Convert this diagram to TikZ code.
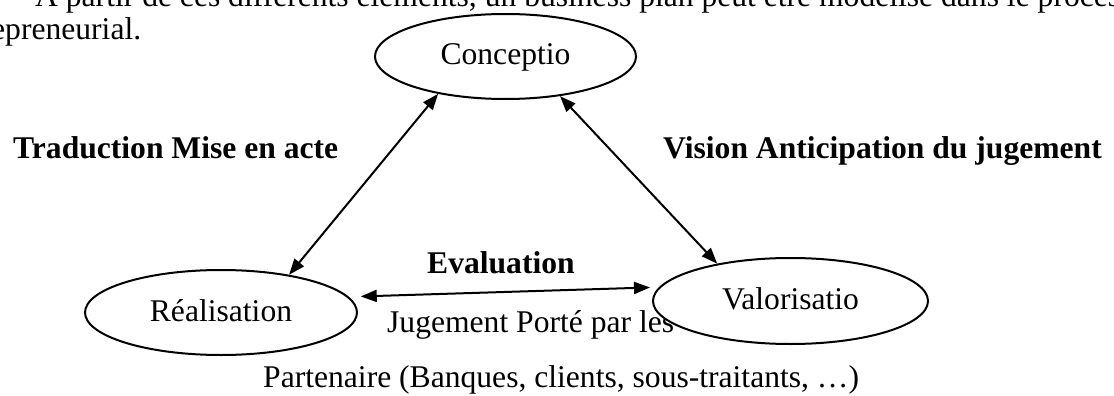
\documentclass[tikz,border=0pt]{standalone}
\usepackage{fontspec}
\setmainfont{Liberation Serif}
\usetikzlibrary{arrows.meta,shapes.geometric}
\begin{document}
\begin{tikzpicture}[x=1pt,y=-1pt,
  txt/.style={font=\fontsize{31.6pt}{38pt}\selectfont, inner sep=0pt, anchor=base west},
  boldtxt/.style={txt, font=\fontsize{31.6pt}{38pt}\selectfont\bfseries},
  stage/.style={ellipse, draw, line width=2pt, fill=white, inner sep=0pt,
    font=\fontsize{31.6pt}{38pt}\selectfont, text height=23pt, text depth=6pt},
  link/.style={{Triangle[length=16pt,width=12pt]}-{Triangle[length=16pt,width=12pt]},
    line width=2pt}]
  % page frame
  \useasboundingbox (0,0) rectangle (1114,396);
  \clip (0,0) rectangle (1114,396);

  % running paragraph text
  \node[txt] (para1) at (35,7) {A partir de ces différents éléments, un business plan peut être modélisé dans le processus};
  \node[txt] (para2) at (-9,40) {epreneurial.};

  % side labels
  \node[boldtxt] (lblleft) at (13,158) {Traduction Mise en acte};
  \node[boldtxt] (lblright) at (663,158) {Vision Anticipation du jugement};
  \node[boldtxt] (lbleval) at (427,273) {Evaluation};
  \node[txt] (lbljug) at (387,332) {Jugement Porté par les};
  \node[txt] (lblpart) at (263,387) {Partenaire (Banques, clients, sous-traitants, …)};

  % the three stages
  \node[stage, minimum width=261pt, minimum height=85pt] (c) at (505.5,56.5) {Conceptio};
  \node[stage, minimum width=272pt, minimum height=85pt] (r) at (221,312.5) {Réalisation};
  \node[stage, minimum width=275pt, minimum height=86pt] (v) at (790.5,301) {Valorisatio};

  % two-way links
  \draw[link] (c.209) -- (r.29);
  \draw[link] (c.-36) -- (v.153);
  \draw[link, shorten <=12pt, shorten >=9pt] (r.7) -- (v.174);
\end{tikzpicture}
\end{document}
